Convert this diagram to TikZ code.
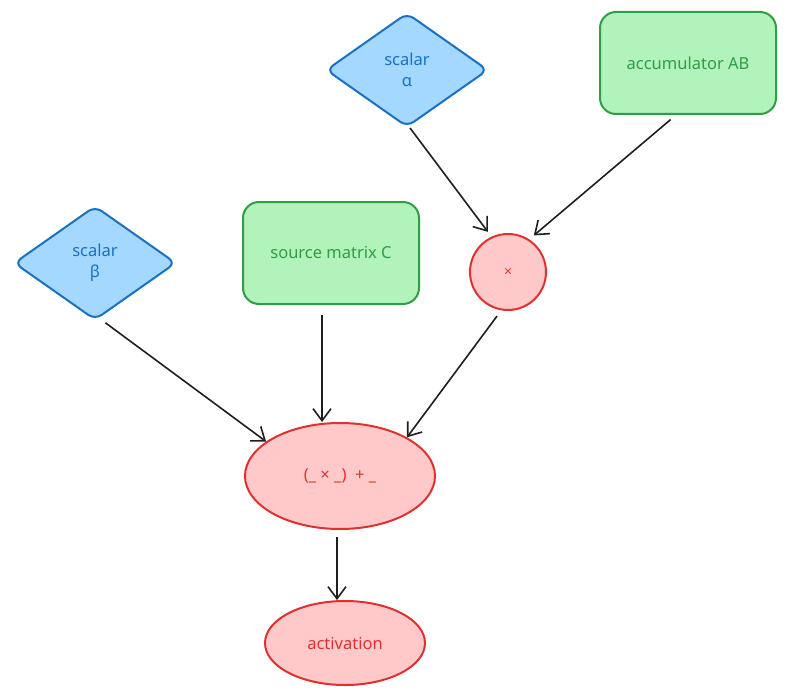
\documentclass[tikz,border=0pt]{standalone}
\usepackage{fontspec}
\setmainfont{Noto Sans}
\usetikzlibrary{shapes.geometric,arrows.meta}
\definecolor{bfill}{HTML}{A5D8FF}
\definecolor{bline}{HTML}{1971C2}
\definecolor{gfill}{HTML}{B2F2BB}
\definecolor{gline}{HTML}{2F9E44}
\definecolor{rfill}{HTML}{FFC9C9}
\definecolor{rline}{HTML}{E03131}
\definecolor{ink}{HTML}{1E1E1E}
\tikzset{
  scalarbox/.style={diamond, draw=bline, fill=bfill, text=bline, line width=2pt,
    minimum width=162pt, minimum height=114pt, inner sep=0pt, rounded corners=8pt,
    align=center, font=\fontsize{16.5}{21}\selectfont},
  matbox/.style={rectangle, draw=gline, fill=gfill, text=gline, line width=2pt,
    minimum width=176pt, minimum height=102pt, rounded corners=16pt, inner sep=0pt,
    font=\fontsize{16.5}{20}\selectfont},
  opnode/.style={ellipse, draw=rline, fill=rfill, text=rline, line width=2pt,
    inner sep=0pt, font=\fontsize{16.5}{20}\selectfont},
  conn/.style={draw=ink, line width=1.6pt, -{Straight Barb[length=12pt,width=18pt,line width=1.6pt]}},
}
\begin{document}
\begin{tikzpicture}[x=1pt,y=-1pt]
\useasboundingbox (0,0) rectangle (786,698);
\node[scalarbox] (alpha) at (407,70) {scalar\\α};
\node[matbox] (acc) at (688,63) {accumulator AB};
\node[scalarbox] (beta) at (95,263) {scalar\\β};
\node[matbox] (src) at (331,253) {source matrix C};
\node[opnode, minimum width=76pt, minimum height=76pt, font=\fontsize{14}{16}\selectfont] (mul) at (508,272) {×};
\node[opnode, minimum width=190pt, minimum height=106pt] (fma) at (340,476) {(\_ × \_)\ \ + \_};
\node[opnode, minimum width=160pt, minimum height=84pt] (act) at (345,643) {activation};

\draw[conn, shorten >=6pt] ([xshift=3pt]alpha.south) -- (mul.115);
\draw[conn, shorten <=7pt, shorten >=6pt] ([xshift=-12pt]acc.south) -- (mul.57);
\draw[conn, shorten <=3pt] ([xshift=8pt]beta.south) -- (fma.155);
\draw[conn, shorten <=10pt] ([xshift=-9pt]src.south) -- ([xshift=-18pt]fma.north);
\draw[conn, shorten <=7pt] (mul.-100) -- (fma.30);
\draw[conn, shorten <=7pt] ([xshift=-3pt]fma.south) -- ([xshift=-8pt]act.north);
\end{tikzpicture}
\end{document}
